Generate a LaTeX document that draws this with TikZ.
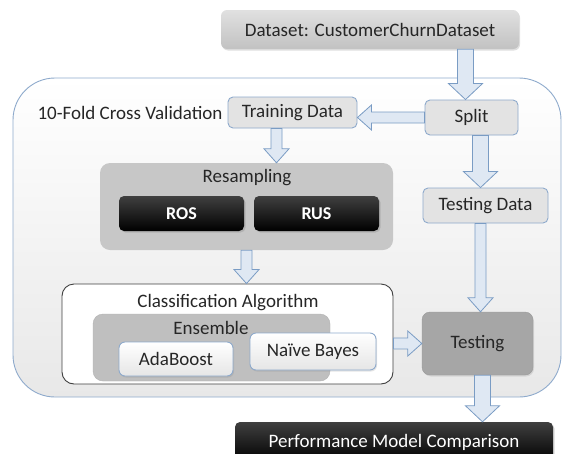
\documentclass[tikz,border=0pt]{standalone}
\usepackage{fontspec}
\setmainfont{Carlito}
\usetikzlibrary{calc,shadows}

\definecolor{arrowfill}{HTML}{DFE8F3}
\definecolor{arrowline}{HTML}{7A9CC4}
\definecolor{boxline}{HTML}{8EAACC}
\definecolor{inktext}{HTML}{262626}

\begin{document}
\begin{tikzpicture}
    [
        x=1pt, y=-1pt,
        every node/.style={inner sep=0pt, text=inktext, font=\fontsize{19}{22}\selectfont},
        frame/.style={rectangle, rounded corners=42pt, draw=boxline, line width=0.9pt, top color=white, bottom color=black!9},
        topbox/.style={rectangle, rounded corners=6pt, top color=black!12, bottom color=black!24, drop shadow={opacity=0.25, shadow xshift=1pt, shadow yshift=-1.5pt}},
        databox/.style={rectangle, rounded corners=5pt, draw=boxline, line width=0.9pt, fill=black!11},
        greybox/.style={rectangle, rounded corners=10pt, fill=black!22},
        blackbox/.style={rectangle, rounded corners=5pt, top color=black!75, bottom color=black, text=white, drop shadow={opacity=0.3, shadow xshift=1.5pt, shadow yshift=-1.5pt}},
        algobox/.style={rectangle, rounded corners=6pt, draw=boxline, line width=0.9pt, top color=white, bottom color=black!10, drop shadow={opacity=0.2, shadow xshift=1pt, shadow yshift=-1.5pt}},
        fatarrow/.style n args={3}{draw=arrowline, fill=arrowfill, line width=0.8pt, line join=miter,
            to path={($(\tikztostart)!#1!90:(\tikztotarget)$)
                -- ($(\tikztotarget)!#3!(\tikztostart)!#1!90:(\tikztotarget)$)
                -- ($(\tikztotarget)!#3!(\tikztostart)!#2!90:(\tikztotarget)$)
                -- (\tikztotarget)
                -- ($(\tikztotarget)!#3!(\tikztostart)!#2!-90:(\tikztotarget)$)
                -- ($(\tikztotarget)!#3!(\tikztostart)!#1!-90:(\tikztotarget)$)
                -- ($(\tikztostart)!#1!-90:(\tikztotarget)$)
                -- cycle}},
        fat/.style={fatarrow={5.5pt}{12.5pt}{14pt}},
        bigfat/.style={fatarrow={8pt}{17pt}{16pt}},
    ]

    \useasboundingbox (0,0) rectangle (562,453);
    \clip (0,0) rectangle (562,453);

    % cross validation frame
    \node (cv) at (287,237.5) [frame, minimum width=548pt, minimum height=319pt] {};
    \node (cvtext) at (130,113) {10-Fold Cross Validation};

    \node (dataset) at (370,29.5) [topbox, minimum width=298pt, minimum height=39pt] {Dataset: CustomerChurnDataset};
    \node (train) at (292.5,112.5) [databox, minimum width=129pt, minimum height=31pt] {Training Data};
    \node (split) at (471.5,117.5) [databox, minimum width=93pt, minimum height=35pt] {Split};
    \node (tdata) at (485.5,205.5) [databox, minimum width=125pt, minimum height=35pt] {Testing Data};

    % resampling
    \node (resamp) at (246.5,206.5) [greybox, minimum width=293pt, minimum height=87pt] {};
    \node (resamptext) at (247,178) {Resampling};
    \node (ros) at (181.5,213.5) [blackbox, minimum width=125pt, minimum height=35pt] {\fontsize{18}{21}\selectfont\bfseries ROS};
    \node (rus) at (316.5,213.5) [blackbox, minimum width=125pt, minimum height=35pt] {\fontsize{18}{21}\selectfont\bfseries RUS};

    % classification
    \node (classif) at (227.5,334) [rectangle, rounded corners=12pt, draw=black!75, line width=0.9pt, fill=white, minimum width=331pt, minimum height=100pt] {};
    \node (classiftext) at (228,303) {Classification Algorithm};
    \node (ensemble) at (211.5,347.5) [rectangle, rounded corners=10pt, draw=black!30, fill=black!25, minimum width=237pt, minimum height=67pt] {};
    \node (ensembletext) at (211,328) {Ensemble};
    \node (ada) at (176,359) [algobox, minimum width=114pt, minimum height=34pt] {AdaBoost};
    \node (nb) at (313,351.5) [algobox, minimum width=126pt, minimum height=37pt] {Naïve Bayes};

    \node (testing) at (477.5,343.5) [rectangle, rounded corners=8pt, draw=black!40, fill=black!35, minimum width=111pt, minimum height=63pt, drop shadow={opacity=0.2, shadow xshift=1pt, shadow yshift=-1.5pt}] {Testing};
    \node (perf) at (394,442) [blackbox, minimum width=318pt, minimum height=40pt] {Performance Model Comparison};

    \draw [bigfat] ([xshift=-6pt]dataset.south -| split.north) to ([xshift=-6pt]split.north);
    \draw [fat] (split.west) to (split.west -| train.east);
    \draw [bigfat] ([xshift=9pt]split.south) to ([xshift=9pt]split.south |- tdata.north);
    \draw [fat] ([xshift=3pt]tdata.south -| testing.north) to ([xshift=3pt]testing.north);
    \draw [bigfat] ([xshift=5pt]testing.south) to ([xshift=5pt]testing.south |- perf.north);
    \draw [fat] ([xshift=-16pt]train.south) to ([xshift=-16pt]train.south |- resamp.north);
    \draw [fat] (resamp.south) to (resamp.south |- classif.north);
    \draw [fat] (classif.east |- testing.west) to (testing.west);

\end{tikzpicture}
\end{document}
